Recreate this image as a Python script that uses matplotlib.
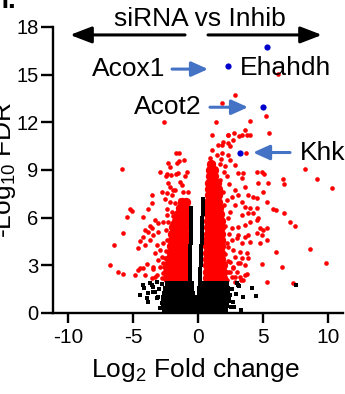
import matplotlib
matplotlib.use("Agg")
import matplotlib.pyplot as plt

plt.rcParams["font.family"] = ["Liberation Sans", "DejaVu Sans"]
plt.rcParams["mathtext.fontset"] = "custom"
plt.rcParams["mathtext.rm"] = "Liberation Sans"
plt.rcParams["axes.unicode_minus"] = False

# dense red core of significant genes, rows of (-log FDR, log2FC values)
red_core_left = [
    (2.2, [-2.4, -2.05, -1.7, -1.35, -1.0]),
    (2.6, [-2.4, -2.05, -1.7, -1.35, -1.0]),
    (3.0, [-2.3, -1.95, -1.6, -1.3, -1.0]),
    (3.4, [-2.2, -1.85, -1.5, -1.2, -1.0]),
    (3.8, [-2.1, -1.8, -1.5, -1.2, -1.0]),
    (4.2, [-2.05, -1.75, -1.45, -1.2, -1.0]),
    (4.6, [-2.0, -1.7, -1.4, -1.2, -1.0]),
    (5.0, [-2.0, -1.7, -1.4, -1.2, -1.0]),
    (5.4, [-1.9, -1.6, -1.3, -1.0]),
    (5.8, [-1.7, -1.4, -1.1, -0.95]),
    (6.2, [-1.55, -1.25, -0.95]),
    (6.6, [-1.4, -1.15, -0.95]),
    (7.0, [-1.2, -0.95]),
]
red_core_right = [
    (2.2, [0.72, 1.05, 1.4, 1.75, 1.95]),
    (2.6, [0.72, 1.05, 1.4, 1.75, 1.95]),
    (3.0, [0.72, 1.05, 1.4, 1.75, 1.9]),
    (3.4, [0.72, 1.05, 1.4, 1.75]),
    (3.8, [0.72, 1.05, 1.4, 1.75]),
    (4.2, [0.72, 1.05, 1.4, 1.75]),
    (4.6, [0.72, 1.05, 1.4, 1.75]),
    (5.0, [0.75, 1.1, 1.45, 1.8]),
    (5.4, [0.75, 1.1, 1.45, 1.8]),
    (5.8, [0.75, 1.1, 1.45, 1.75]),
    (6.2, [0.78, 1.1, 1.45, 1.7]),
    (6.6, [0.8, 1.1, 1.45, 1.65]),
    (7.0, [0.8, 1.15, 1.5]),
    (7.4, [0.82, 1.15, 1.5]),
    (7.8, [0.85, 1.2, 1.5]),
    (8.2, [0.88, 1.2, 1.45]),
    (8.6, [0.9, 1.25]),
    (9.0, [0.95, 1.25]),
    (9.4, [1.0]),
]

# scattered significant genes
red_pts = [
    (-5.87, 9.04), (-6.47, 4.25), (-5.74, 5.03), (-5.48, 6.06), (-5.25, 6.54), (-5.08, 6.4),
    (-4.59, 4.07), (-4.2, 6.03), (-3.56, 7.4), (-3.56, 6.9), (-2.92, 8.9), (-2.74, 7.6),
    (-2.41, 8.74), (-2.28, 9.41), (-2.1, 8.68), (-1.66, 10.08), (-1.44, 10.08), (-1.6, 9.46),
    (-1.5, 9.58), (-1.08, 9.62), (-2.15, 9.2), (-2.46, 8.65), (-1.73, 8.74), (-1.51, 8.78),
    (-0.87, 8.89), (-1.0, 8.65), (-2.28, 8.15), (-2.15, 7.94), (-1.38, 8.26), (-1.26, 8.05),
    (-1.9, 7.74), (-1.77, 7.74), (-1.13, 7.63), (-0.75, 7.63), (-2.41, 7.53), (-2.02, 7.42),
    (-2.54, 7.15), (-2.15, 7.0), (-1.77, 6.94), (-1.38, 7.11), (-3.82, 6.52), (-2.41, 6.52),
    (-2.02, 6.37), (-2.41, 6.16), (-1.9, 6.1), (-3.31, 5.85), (-3.05, 5.68), (-2.67, 5.75),
    (-2.28, 5.75), (-2.02, 5.64), (-3.69, 5.47), (-3.56, 5.33), (-4.08, 5.22), (-3.82, 5.11),
    (-4.2, 4.8), (-4.46, 4.53), (-4.08, 4.28), (-3.69, 4.59), (-3.44, 4.91), (-3.05, 5.11),
    (-3.18, 4.28), (-2.92, 3.96), (-3.31, 3.75), (-2.79, 3.54), (-3.05, 3.33), (-2.67, 3.13),
    (-2.54, 3.44), (-4.46, 2.81), (-4.59, 2.7), (-4.85, 2.39), (-4.08, 2.39), (-3.95, 3.06),
    (-3.44, 2.91), (-3.18, 2.39), (-2.79, 2.18), (-3.56, 2.18), (-6.77, 3.0), (-6.13, 2.56),
    (-5.74, 2.45), (-4.2, 2.81), (-3.48, 2.75), (-3.31, 2.28), (-2.59, 12.0),
    (2.85, 13.71), (1.82, 13.19), (5.21, 12.39), (4.0, 12.07), (1.36, 11.99), (1.05, 11.2),
    (2.28, 11.2), (2.79, 11.34), (3.36, 11.2), (3.74, 11.2), (5.49, 11.3), (1.82, 10.57),
    (2.33, 10.67), (3.67, 10.08), (4.51, 8.89), (5.1, 8.72), (6.51, 8.41), (6.64, 8.09),
    (8.23, 9.04), (9.13, 8.41), (10.28, 7.84), (5.74, 6.52), (6.0, 6.48), (6.64, 6.31),
    (7.08, 5.75), (7.46, 5.5), (5.97, 3.86), (8.62, 4.0), (4.64, 8.15), (5.03, 7.63),
    (5.28, 7.0), (4.26, 7.32), (3.87, 6.27), (4.51, 5.85), (5.03, 5.22), (5.28, 4.59),
    (4.77, 4.38), (4.9, 3.08), (6.44, 2.91), (5.28, 1.97), (7.33, 1.9), (9.85, 3.16),
    (3.23, 3.12), (3.62, 2.39), (3.74, 2.45), (3.28, 2.08), (2.72, 2.91), (2.46, 2.6),
    (2.85, 2.28), (3.62, 11.51), (4.0, 11.19), (3.18, 11.15), (2.33, 11.19), (2.72, 10.88),
    (1.95, 10.74), (2.46, 10.5), (1.56, 10.57), (1.05, 10.25), (1.44, 9.94), (1.82, 10.04),
    (2.33, 9.94), (2.46, 9.62), (0.92, 9.73), (1.18, 9.41), (1.69, 9.35), (2.08, 9.25),
    (2.85, 9.31), (3.1, 8.78), (3.49, 8.84), (4.9, 8.89), (3.36, 8.47), (5.41, 8.15),
    (3.62, 7.94), (2.85, 7.74), (3.1, 7.42), (3.87, 7.42), (4.51, 7.21), (3.36, 7.0),
    (2.85, 6.79), (3.62, 6.69), (4.0, 6.58), (4.51, 6.58), (2.46, 6.37), (3.36, 6.16),
    (4.26, 6.27), (4.64, 5.96), (4.0, 5.74), (3.62, 5.53), (3.1, 5.43), (2.59, 5.33),
    (4.77, 5.33), (5.28, 5.33), (4.9, 4.91), (3.87, 4.91), (3.1, 4.91), (4.51, 5.01),
    (2.59, 4.59), (2.97, 4.7), (3.62, 4.8), (4.0, 4.48), (3.36, 4.38), (2.33, 4.17),
    (2.72, 3.96), (3.23, 3.86), (3.74, 3.75), (2.85, 3.54), (3.36, 3.44), (3.87, 3.44),
    (2.46, 3.23), (3.1, 3.13), (3.62, 3.02), (2.72, 2.81), (2.33, 2.6), (2.97, 2.6),
    (3.23, 2.28), (3.49, 2.08), (2.59, 2.28), (2.85, 1.97), (6.13, 15.03),
    (2.2, 8.6), (2.4, 8.1), (1.9, 7.6), (2.2, 7.1), (2.6, 7.3), (2.0, 6.8), (2.3, 6.0),
    (2.1, 5.5), (2.4, 5.0), (2.2, 4.4), (2.1, 3.7), (2.3, 3.3), (2.1, 2.6), (2.2, 2.1),
    (1.8, 9.7), (2.0, 8.9), (1.7, 8.4), (-2.7, 2.5), (-2.6, 2.9), (-2.5, 3.9), (-2.4, 4.6),
    (-2.5, 5.2), (-2.7, 4.4), (-2.9, 2.9),
]

# dense block of non-significant genes near the bottom
black_blob = [
    (1.75, [-2.2, -1.85, -1.5, -1.15, -0.85, -0.6, 0.3, 0.55, 0.9, 1.25, 1.6, 1.9, 2.1]),
    (1.45, [-2.4, -2.05, -1.7, -1.35, -1.0, -0.65, 0.25, 0.45, 0.75, 1.1, 1.45, 1.8, 2.15]),
    (1.15, [-2.5, -2.15, -1.8, -1.45, -1.1, -0.7, -0.55, 0.2, 0.4, 0.7, 1.05, 1.4, 1.75, 2.15]),
    (0.85, [-2.55, -2.2, -1.85, -1.5, -1.15, -0.8, -0.5, 0.15, 0.5, 0.85, 1.2, 1.55, 1.9, 2.2]),
    (0.55, [-2.55, -2.2, -1.85, -1.5, -1.15, -0.8, -0.45, -0.15, 0.15, 0.5, 0.85, 1.2, 1.55, 1.9, 2.1]),
    (0.25, [-2.45, -2.1, -1.75, -1.4, -1.05, -0.7, -0.35, 0.0, 0.35, 0.7, 1.05, 1.4, 1.75, 2.0]),
    (0.05, [-2.1, -1.75, -1.4, -1.05, -0.7, -0.35, 0.0, 0.35, 0.7, 1.05, 1.4, 1.7]),
]
# small fold-change genes forming the inner edges of the V
black_v = [
    (-0.6, 2.0), (-0.6, 2.2), (-0.6, 2.4), (-0.6, 2.6), (-0.59, 2.8), (-0.59, 3.0),
    (-0.59, 3.2), (-0.59, 3.4), (-0.58, 3.6), (-0.58, 3.8), (-0.58, 4.0), (-0.58, 4.2),
    (-0.57, 4.4), (-0.57, 4.6), (-0.57, 4.8), (-0.57, 5.0), (-0.56, 5.2), (-0.56, 5.4),
    (-0.56, 5.6), (-0.56, 5.8), (-0.56, 6.0), (-0.56, 6.2), (-0.56, 6.4), (-0.56, 6.6),
    (0.15, 2.0), (0.16, 2.2), (0.17, 2.4), (0.18, 2.6), (0.19, 2.8), (0.2, 3.0),
    (0.21, 3.2), (0.22, 3.4), (0.23, 3.6), (0.24, 3.8), (0.25, 4.0), (0.26, 4.2),
    (0.27, 4.4), (0.28, 4.6), (0.29, 4.8), (0.3, 5.0), (0.3, 5.2), (0.31, 5.4),
    (0.32, 5.6), (0.33, 5.8), (0.34, 6.0), (0.35, 6.2), (0.36, 6.4), (0.36, 6.6),
    (0.37, 6.8), (0.38, 7.0), (0.38, 7.2),
]
black_pts = [
    (7.54, 1.76), (4.44, 1.07), (4.13, 1.55), (3.49, 0.99), (3.31, 0.19), (3.18, 1.7),
    (3.03, 1.87), (2.72, 0.71), (2.46, 1.13), (2.21, 0.82), (1.69, 0.29), (3.1, 1.76),
    (2.6, 1.5), (2.9, 1.2), (2.3, 1.6), (2.8, 0.4), (2.5, 0.4),
    (-4.21, 1.76), (-4.15, 1.55), (-4.46, 1.13), (-3.87, 0.71), (-3.82, 1.24), (-3.44, 1.34),
    (-3.18, 0.92), (-2.79, 0.65), (-2.67, 1.03), (-3.56, 1.76), (-3.18, 1.97), (-3.69, 1.87),
    (-3.44, 1.66), (-3.95, 0.92), (-3.31, 1.34), (-3.05, 1.03), (-2.9, 0.3), (-3.0, 1.5),
    (-2.8, 1.8),
]

# highlighted genes
blue_x = [5.31, 2.31, 5.0, 3.23]
blue_y = [16.74, 15.54, 12.95, 10.1]

red_cx = [x for y, xs in red_core_left + red_core_right for x in xs]
red_cy = [y for y, xs in red_core_left + red_core_right for x in xs]
blob_x = [x for y, xs in black_blob for x in xs]
blob_y = [y for y, xs in black_blob for x in xs]

fig = plt.figure(figsize=(3.45, 3.94), dpi=100)
ax = fig.add_axes([0.154, 0.2056, 0.84, 0.7259])

ax.scatter(red_cx, red_cy, s=45, color="#ff0000", linewidths=0, zorder=2)
ax.scatter([p[0] for p in red_pts], [p[1] for p in red_pts], s=11, color="#ff0000",
           linewidths=0, zorder=2)
ax.scatter(blob_x, blob_y, s=30, marker="s", color="black", linewidths=0, zorder=3)
ax.scatter([p[0] for p in black_pts], [p[1] for p in black_pts], s=9, marker="s",
           color="black", linewidths=0, zorder=3)
ax.scatter([p[0] for p in black_v], [p[1] for p in black_v], s=6, marker="s",
           color="black", linewidths=0, zorder=3)
ax.scatter(blue_x, blue_y, s=20, color="#0000cc", linewidths=0, zorder=4)

ax.set_xlim(-11.15, 11.15)
ax.set_ylim(0, 18)
ax.set_xticks([-10, -5, 0, 5, 10])
ax.set_yticks([0, 3, 6, 9, 12, 15, 18])
for s in ["top", "right"]:
    ax.spines[s].set_visible(False)
for s in ["left", "bottom"]:
    ax.spines[s].set_linewidth(1.7)
ax.tick_params(axis="y", length=9, width=1.7, pad=1.5, labelsize=14.5)
ax.tick_params(axis="x", length=7, width=1.7, pad=4, labelsize=15)

ax.set_xlabel("Log$_{\\mathregular{2}}$ Fold change", fontsize=19)
ax.xaxis.set_label_coords(0.49, -0.15)
fig.text(5 / 345, 0.2056 + 0.7259 / 2, "-Log$_{\\mathregular{10}}$ FDR",
         rotation=90, ha="center", va="center", fontsize=19)
fig.text(16 / 345, 1 - 8 / 394, "n.", ha="right", va="baseline", fontsize=20,
         fontweight="bold")

# direction arrows and title
ax.text(0.15, 18.07, "siRNA vs Inhib", ha="center", va="baseline", fontsize=19,
        clip_on=False)
black_arrow = dict(arrowstyle="-|>,head_length=1.3,head_width=0.5", color="black",
                   lw=2.2, mutation_scale=10, shrinkA=0, shrinkB=0)
ax.annotate("", xy=(-9.85, 17.5), xytext=(-1.0, 17.5), arrowprops=black_arrow,
            annotation_clip=False)
ax.annotate("", xy=(9.54, 17.5), xytext=(0.77, 17.5), arrowprops=black_arrow,
            annotation_clip=False)

blue_arrow = dict(arrowstyle="-|>,head_length=1.0,head_width=0.45", color="#4472c4",
                  lw=2.2, mutation_scale=10, shrinkA=0, shrinkB=0)
ax.annotate("", xy=(0.77, 15.35), xytext=(-2.0, 15.35), arrowprops=blue_arrow)
ax.annotate("", xy=(3.85, 12.95), xytext=(0.92, 12.95), arrowprops=blue_arrow)
ax.annotate("", xy=(4.23, 10.1), xytext=(7.08, 10.1), arrowprops=blue_arrow)

ax.text(-2.54, 15.35, "Acox1", ha="right", va="center", fontsize=19)
ax.text(3.23, 15.45, "Ehahdh", ha="left", va="center", fontsize=19)
ax.text(0.31, 12.95, "Acot2", ha="right", va="center", fontsize=19)
ax.text(7.85, 10.1, "Khk", ha="left", va="center", fontsize=19, clip_on=False)

fig.savefig("out.png", dpi=100)
